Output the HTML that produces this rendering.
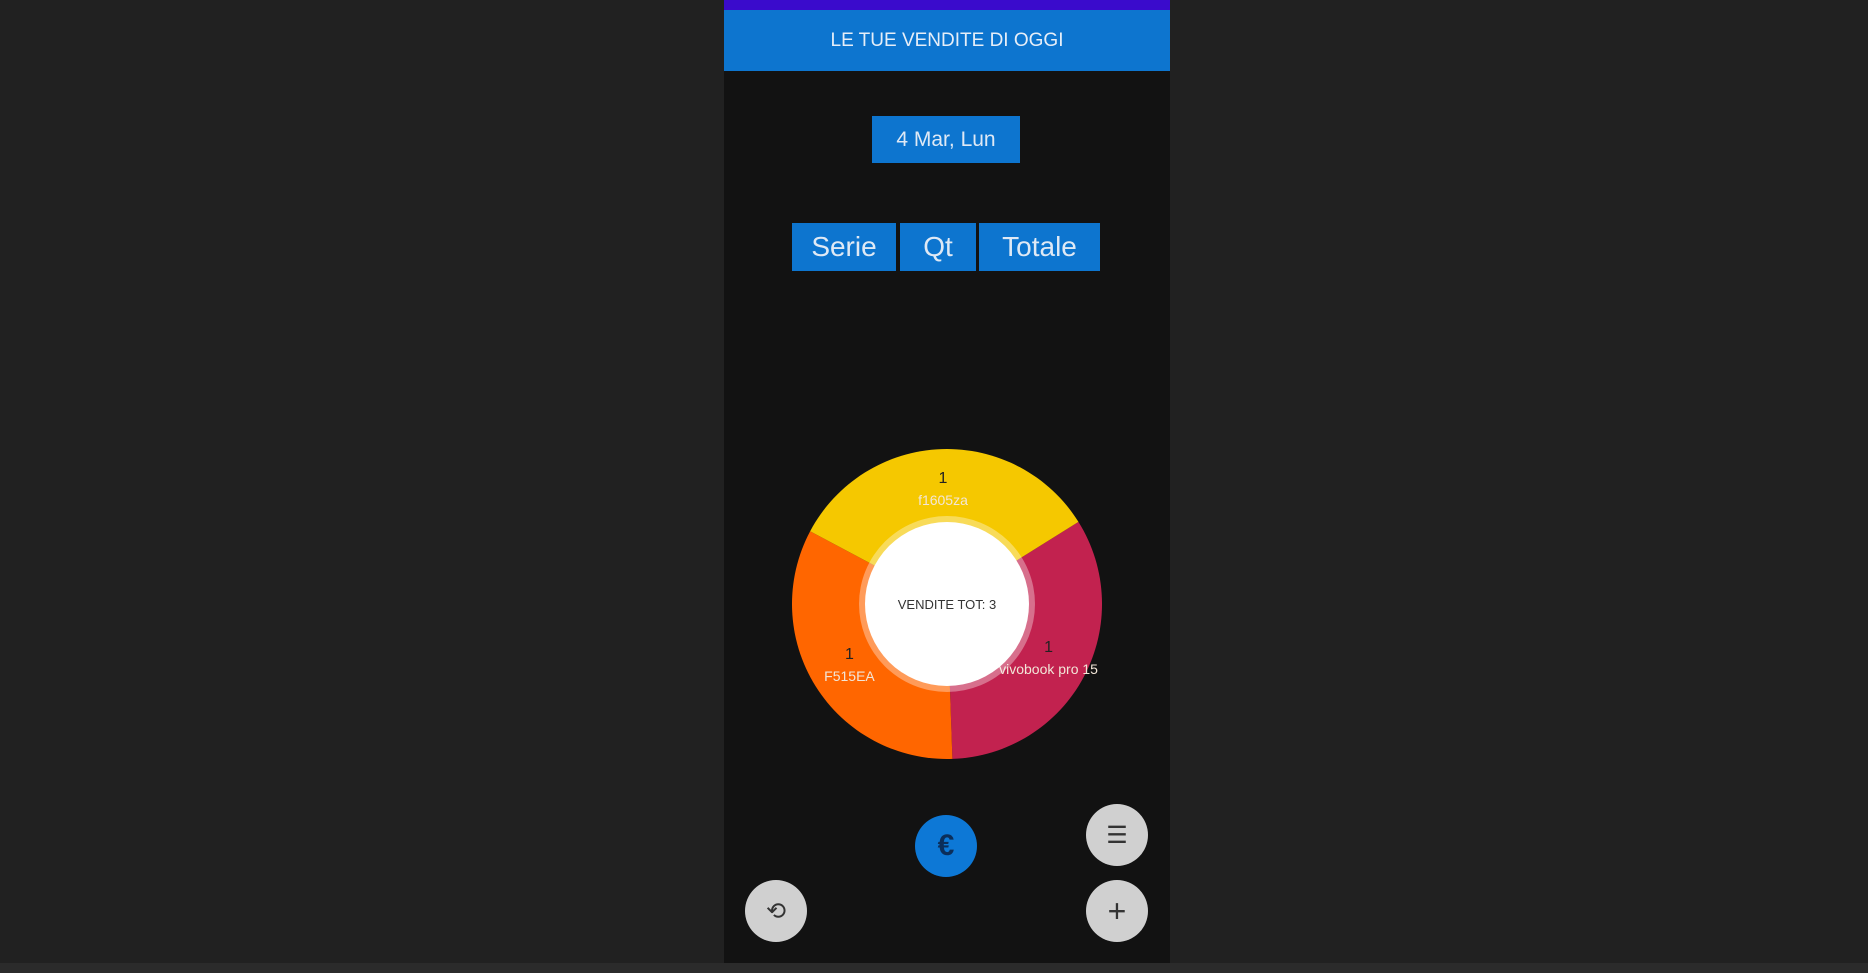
<!DOCTYPE html>
<html><head><meta charset="utf-8"><style>
body{margin:0;width:1868px;height:973px;background:#212121;position:relative;overflow:hidden;font-family:"Liberation Sans",sans-serif}
.abs{position:absolute}
.btn{position:absolute;background:#0d75cf;color:#dfe9f5;display:flex;align-items:center;justify-content:center}
.fab{position:absolute;border-radius:50%;display:flex;align-items:center;justify-content:center}
</style></head><body>
<div class="abs" style="left:0;top:963px;width:1868px;height:10px;background:#2b2b2b"></div>
<div class="abs" style="left:724px;top:0;width:446px;height:963px;background:#121212"></div>
<div class="abs" style="left:724px;top:0;width:446px;height:10px;background:#3a0bcc"></div>
<div class="btn" style="left:724px;top:10px;width:446px;height:61px;font-size:19px;color:#e6eef8">LE TUE VENDITE DI OGGI</div>
<div class="btn" style="left:872px;top:116px;width:148px;height:47px;font-size:21px">4 Mar, Lun</div>
<div class="btn" style="left:792px;top:223px;width:104px;height:48px;font-size:28px">Serie</div>
<div class="btn" style="left:900px;top:223px;width:76px;height:48px;font-size:28px">Qt</div>
<div class="btn" style="left:979px;top:223px;width:121px;height:48px;font-size:28px">Totale</div>
<svg class="abs" style="left:0;top:0" width="1868" height="973" id="chart"></svg>
<div class="fab" style="left:915px;top:815px;width:62px;height:62px;background:#0d78d6;color:#0b2e5a;font-size:30px;font-weight:bold">€</div>
<div class="fab" style="left:1086px;top:804px;width:62px;height:62px;background:#d0d0d0;color:#333;font-size:24px">☰</div>
<div class="fab" style="left:1086px;top:880px;width:62px;height:62px;background:#d0d0d0;color:#333;font-size:32px">+</div>
<div class="fab" style="left:745px;top:880px;width:62px;height:62px;background:#d0d0d0;color:#333;font-size:24px">⟲</div>
<script>
const categories=["vivobook pro 15","F515EA","f1605za"];
const values=[1,1,1];
const colors=["#c2224f","#ff6600","#f5c800"];
const svg=document.getElementById('chart');
const NS="http://www.w3.org/2000/svg";
const cx=947,cy=604,R=155,rIn=82,start=-32;
const total=values.reduce((a,b)=>a+b,0);
function pt(a,r){const t=a*Math.PI/180;return[cx+r*Math.cos(t),cy+r*Math.sin(t)];}
let a0=start;
values.forEach((v,i)=>{
  const a1=a0+v/total*360;
  const p0=pt(a0,R),p1=pt(a1,R);
  const path=document.createElementNS(NS,'path');
  path.setAttribute('d',`M${cx},${cy}L${p0[0]},${p0[1]}A${R},${R} 0 ${a1-a0>180?1:0} 1 ${p1[0]},${p1[1]}Z`);
  path.setAttribute('fill',colors[i]);
  
  
  svg.appendChild(path);
  const m=(a0+a1)/2;const lp=pt(m,115);
  const t1=document.createElementNS(NS,'text');
  t1.setAttribute('x',lp[0]);t1.setAttribute('y',lp[1]-6);
  t1.setAttribute('text-anchor','middle');t1.setAttribute('font-size','16');t1.setAttribute('fill','#222');
  t1.setAttribute('font-family','Liberation Sans, sans-serif');
  t1.textContent=String(v);
  
  
  svg.appendChild(t1);
  const t2=document.createElementNS(NS,'text');
  t2.setAttribute('x',lp[0]);t2.setAttribute('y',lp[1]+16);
  t2.setAttribute('text-anchor','middle');t2.setAttribute('font-size','14');t2.setAttribute('fill','#f2e6d8');
  t2.setAttribute('font-family','Liberation Sans, sans-serif');
  t2.textContent=categories[i];
  
  
  svg.appendChild(t2);
  a0=a1;
});
const ring=document.createElementNS(NS,'circle');
ring.setAttribute('cx',cx);ring.setAttribute('cy',cy);ring.setAttribute('r',88);ring.setAttribute('fill','rgba(255,255,255,0.35)');


svg.appendChild(ring);
const hole=document.createElementNS(NS,'circle');
hole.setAttribute('cx',cx);hole.setAttribute('cy',cy);hole.setAttribute('r',rIn);hole.setAttribute('fill','#fff');


svg.appendChild(hole);
const ct=document.createElementNS(NS,'text');
ct.setAttribute('x',cx);ct.setAttribute('y',cy+5);ct.setAttribute('text-anchor','middle');
ct.setAttribute('font-size','13');ct.setAttribute('fill','#333');ct.setAttribute('font-family','Liberation Sans, sans-serif');
ct.textContent='VENDITE TOT: '+total;


svg.appendChild(ct);
</script>
</body></html>
